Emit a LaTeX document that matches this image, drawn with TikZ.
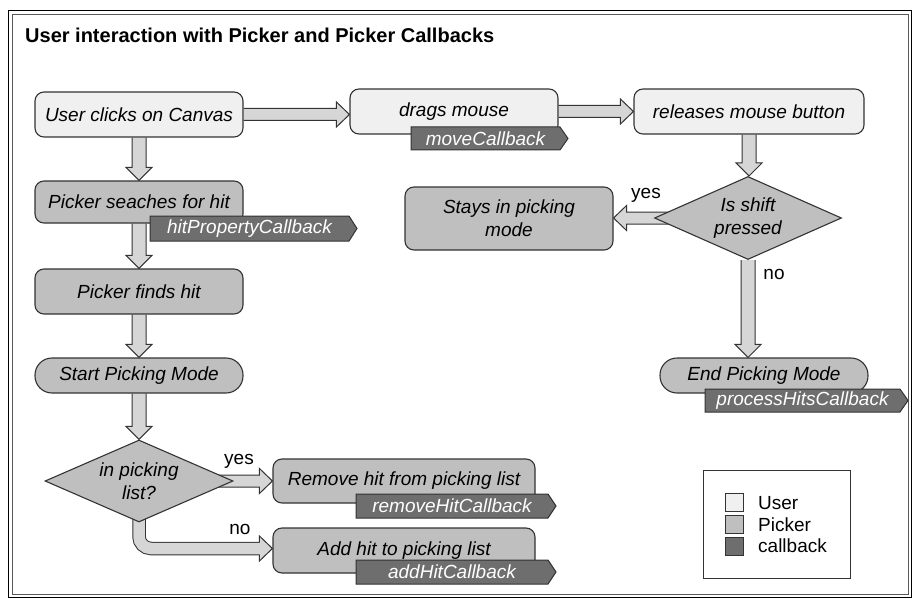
\documentclass[tikz,border=0pt]{standalone}
\usepackage{fontspec}
\setmainfont{Liberation Sans}
\usetikzlibrary{shapes.geometric,backgrounds,calc}
\definecolor{userc}{gray}{0.94}
\definecolor{pickc}{gray}{0.75}
\definecolor{cbc}{gray}{0.43}
\definecolor{arrc}{gray}{0.84}
\definecolor{linec}{gray}{0.2}
\tikzset{
  txt/.style={font=\fontsize{19}{23}\selectfont},
  box/.style={draw=linec, line width=1.1pt, rounded corners=9pt, inner sep=0pt,
    font=\fontsize{19}{23}\selectfont\itshape, align=center},
  userbox/.style={box, fill=userc},
  pickbox/.style={box, fill=pickc},
  stadium/.style={box, fill=pickc, rounded corners=17pt},
  decision/.style={diamond, aspect=2.3, draw=linec, line width=1.1pt, fill=pickc, inner sep=0pt,
    font=\fontsize{19}{23}\selectfont\itshape, align=center},
  barrow/.style={draw=linec, line width=1pt, fill=arrc, line join=miter},
  tagpath/.style={draw=linec, line width=1pt, fill=cbc},
  tagtext/.style={text=white, font=\fontsize{19}{23}\selectfont\itshape, inner sep=0pt},
  lbl/.style={font=\fontsize{19}{23}\selectfont, inner sep=0pt},
  legsq/.style={draw=linec, line width=0.8pt, minimum size=18pt, inner sep=0pt},
}
\newcommand\cbtag[6]{%
  \filldraw[tagpath] (#2,#3) -- (#4,#3) -- (#4+8,{(#3+#5)/2}) -- (#4,#5) -- (#2,#5) -- cycle;
  \node[tagtext] (#1) at ({(#2+#4)/2},{(#3+#5)/2}) {#6};}
\newcommand\barrowdown[2]{%
  \filldraw[barrow] let \p1=(#1), \p2=(#2) in
   (\x1-7pt,\y1) -- (\x1-7pt,\y2+13pt) -- (\x1-13pt,\y2+13pt) -- (\x1,\y2)
   -- (\x1+13pt,\y2+13pt) -- (\x1+7pt,\y2+13pt) -- (\x1+7pt,\y1);}
\newcommand\barrowright[2]{%
  \filldraw[barrow] let \p1=(#1), \p2=(#2) in
   (\x1,\y1+6pt) -- (\x2-13pt,\y1+6pt) -- (\x2-13pt,\y1+12.5pt) -- (\x2,\y1)
   -- (\x2-13pt,\y1-12.5pt) -- (\x2-13pt,\y1-6pt) -- (\x1,\y1-6pt);}
\newcommand\barrowleft[2]{%
  \filldraw[barrow] let \p1=(#1), \p2=(#2) in
   (\x1,\y1+6pt) -- (\x2+13pt,\y1+6pt) -- (\x2+13pt,\y1+12.5pt) -- (\x2,\y1)
   -- (\x2+13pt,\y1-12.5pt) -- (\x2+13pt,\y1-6pt) -- (\x1,\y1-6pt);}
\begin{document}
\begin{tikzpicture}[x=1pt,y=-1pt]
\useasboundingbox (0,0) rectangle (913,599);
% frame
\draw[black, line width=1.5pt] (8.5,10.5) rectangle (911.5,597.5);
\draw[gray!70!black, line width=0.8pt] (12,14) rectangle (908.5,594.5);
\node[anchor=west, inner sep=0pt, font=\fontsize{20}{24}\selectfont\bfseries] (title) at (25,35)
  {User interaction with Picker and Picker Callbacks};

% nodes
\node[userbox, minimum width=208pt, minimum height=45pt] (user) at (139,114.5) {User clicks on Canvas};
\node[userbox, minimum width=208pt, minimum height=45pt] (drags) at (454,111.5) {drags mouse};
\node[userbox, minimum width=230pt, minimum height=45pt] (release) at (749,111.5) {releases mouse button};
\node[pickbox, minimum width=208pt, minimum height=42pt] (search) at (139,202) {Picker seaches for hit};
\node[pickbox, minimum width=208pt, minimum height=45pt] (finds) at (139,291.5) {Picker finds hit};
\node[stadium, minimum width=208pt, minimum height=35pt] (start) at (139,375.5) {Start Picking Mode};
\node[decision, minimum width=188pt, minimum height=82pt] (inlist) at (139,481) {in picking\\list?};
\node[pickbox, minimum width=262pt, minimum height=44pt] (remove) at (404,481) {Remove hit from picking list};
\node[pickbox, minimum width=262pt, minimum height=45pt] (add) at (404,550.5) {Add hit to picking list};
\node[pickbox, minimum width=208pt, minimum height=63pt] (stays) at (509,218.5) {Stays in picking\\mode};
\node[decision, minimum width=187pt, minimum height=83pt] (shift) at (748,218) {Is shift\\pressed};
\node[stadium, minimum width=208pt, minimum height=35pt] (endpm) at (764,375.5) {End Picking Mode};

% callback tags
\cbtag{movecb}{411}{127}{560}{150}{moveCallback}
\cbtag{hitcb}{150}{216}{349}{241}{hitPropertyCallback}
\cbtag{procb}{705}{389}{900}{412}{processHitsCallback}
\cbtag{remcb}{356}{494}{548}{518}{removeHitCallback}
\cbtag{addcb}{356}{560}{548}{584}{addHitCallback}

% block arrows
\begin{pgfonlayer}{background}
\barrowright{user.east}{drags.west}
\barrowright{drags.east}{release.west}
\barrowdown{user.south}{search.north}
\barrowdown{search.south}{finds.north}
\barrowdown{finds.south}{start.north}
\barrowdown{start.south}{inlist.north}
\barrowdown{release.south}{shift.north}
\barrowdown{shift.south}{endpm.north}
\barrowleft{shift.center}{stays.east}
\barrowright{inlist.center}{remove.west}
\draw[line width=13.5pt, draw=linec, rounded corners=12pt] let \p1=(inlist.center), \p2=(add.west) in
  (\x1,\y1) |- (\x2-11pt,\y2+2pt);
\draw[line width=11.5pt, draw=arrc, rounded corners=12pt] let \p1=(inlist.center), \p2=(add.west) in
  (\x1,\y1) |- (\x2-11pt,\y2+2pt);
\filldraw[barrow] let \p1=(add.west) in
  (\x1-13pt,\y1+8pt) -- (\x1-13pt,\y1+14.5pt) -- (\x1,\y1+2pt) -- (\x1-13pt,\y1-10.5pt) -- (\x1-13pt,\y1-4pt);
\end{pgfonlayer}

% labels
\node[lbl] (yes1) at (239,461) {yes};
\node[lbl] (no1) at (240,529) {no};
\node[lbl] (yes2) at (646,195) {yes};
\node[lbl] (no2) at (774,274) {no};

% legend
\node[draw=linec, line width=1pt, minimum width=147pt, minimum height=108pt, inner sep=0pt] (legend) at (776.5,524) {};
\node[legsq, fill=userc] (squser) at (734,502) {};
\node[legsq, fill=pickc] (sqpick) at (734,524) {};
\node[legsq, fill=cbc] (sqcb) at (734,546) {};
\node[lbl, anchor=west] (tuser) at (758,503) {User};
\node[lbl, anchor=west] (tpick) at (758,525) {Picker};
\node[lbl, anchor=west] (tcb) at (758,546) {callback};
\end{tikzpicture}
\end{document}
